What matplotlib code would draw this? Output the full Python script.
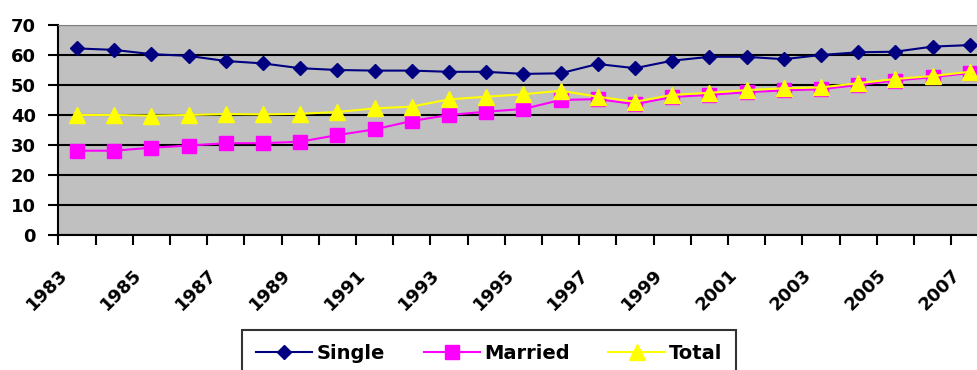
import numpy as np
import matplotlib
matplotlib.use("Agg")
import matplotlib.pyplot as plt
from matplotlib.transforms import ScaledTranslation

# share of population (%) by marital status, 1983-2007
years = list(range(1983, 2008))
single = [62.2, 61.7, 60.3, 59.7, 58.0, 57.2, 55.6, 55.0, 54.8, 54.8, 54.4, 54.4, 53.7,
          53.9, 57.0, 55.6, 58.1, 59.4, 59.4, 58.6, 60.0, 60.9, 61.1, 62.8, 63.3]
married = [28.1, 28.1, 29.1, 29.8, 30.6, 30.6, 31.1, 33.3, 35.2, 38.0, 40.0, 41.1, 42.0,
           45.0, 45.3, 43.6, 46.0, 46.7, 47.6, 48.2, 48.6, 50.0, 51.5, 52.6, 54.0]
total = [40.0, 40.0, 39.8, 40.0, 40.3, 40.2, 40.4, 41.0, 42.2, 42.8, 45.2, 46.1, 46.9,
         48.1, 46.1, 44.4, 46.7, 47.4, 48.3, 48.9, 49.2, 50.6, 52.0, 53.0, 54.4]
yticks = [0, 10, 20, 30, 40, 50, 60, 70]

plt.rcParams['font.family'] = ['DejaVu Sans']
plt.rcParams['font.weight'] = 'bold'

fig = plt.figure(figsize=(9.77, 3.70), dpi=100)
# plot area runs past the right edge of the figure
ax = fig.add_axes([58.3 / 977, 135 / 370, 26 * 37.2 / 977, 210 / 370])
ax.set_facecolor('#C0C0C0')

x = np.arange(len(years))
ax.plot(x, single, color='#000080', marker='D', markersize=7, lw=1.5, label='Single', zorder=3)
ax.plot(x, married, color='#FF00FF', marker='s', markersize=10, lw=1.5, label='Married', zorder=4)
ax.plot(x, total, color='#FFFF00', marker='^', markersize=11, lw=1.5, label='Total', zorder=5)

ax.set_xlim(-0.5, 25.5)
ax.set_ylim(0, 70)
ax.set_yticks(yticks)
ax.yaxis.grid(True, color='black', lw=1.5)
ax.set_axisbelow(True)

# category labels every other year, tick marks between categories
ax.set_xticks(x[::2])
ax.set_xticklabels([str(y) for y in years[::2]], rotation=45, ha='right', va='center',
                   rotation_mode='anchor', fontsize=13)
ax.set_xticks(np.arange(-0.5, 26, 1), minor=True)
ax.tick_params(axis='x', which='major', length=0, pad=27)
ax.tick_params(axis='x', which='minor', length=7, width=1.5, color='black')
ax.tick_params(axis='y', length=7, width=1.5, labelsize=13, pad=9)
shift = ScaledTranslation(-12 / 100, 0, fig.dpi_scale_trans)
for lbl in ax.get_xticklabels():
    lbl.set_transform(lbl.get_transform() + shift)

for side in ['left', 'bottom']:
    ax.spines[side].set_color('black')
    ax.spines[side].set_linewidth(1.5)
ax.spines['top'].set_color('#808080')
ax.spines['right'].set_visible(False)

leg = fig.legend(loc='upper center', bbox_to_anchor=(489 / 977, 1 - 330 / 370), ncol=3,
                 fancybox=False, edgecolor='black', fontsize=14, handlelength=2.9,
                 handletextpad=0.2, columnspacing=2.0, borderpad=0.7, borderaxespad=0)
leg.get_frame().set_linewidth(1.5)

fig.savefig('out.png', dpi=100)
